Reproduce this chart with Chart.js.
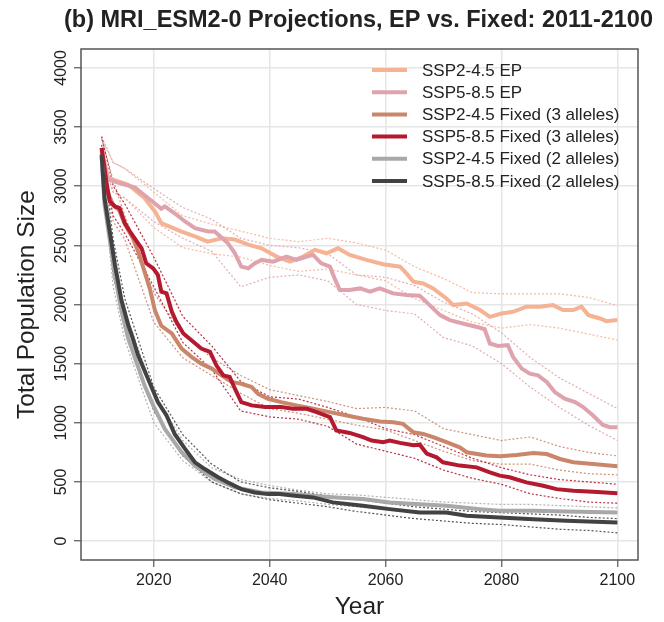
<!DOCTYPE html>
<html>
<head>
<meta charset="utf-8">
<script src="https://cdn.jsdelivr.net/npm/chart.js@4.4.0/dist/chart.umd.min.js"></script>
<style>
  html, body { margin: 0; padding: 0; background: #fff; }
</style>
</head>
<body>
<canvas id="popChart" width="664" height="622"></canvas>
<script>
// series labels and colours (legend order)
const seriesLabels = ['SSP2-4.5 EP', 'SSP5-8.5 EP', 'SSP2-4.5 Fixed (3 alleles)',
                      'SSP5-8.5 Fixed (3 alleles)', 'SSP2-4.5 Fixed (2 alleles)', 'SSP5-8.5 Fixed (2 alleles)'];
const seriesColors = ['#F5B393', '#DFA3AE', '#C9866A', '#B5192F', '#A8A8A8', '#424242'];

const xTicks = [2020, 2040, 2060, 2080, 2100];
const yTicks = [0, 500, 1000, 1500, 2000, 2500, 3000, 3500, 4000];

// mean trajectories
const ep245Years = [2011, 2012.1, 2015.6, 2018.4, 2020.2, 2021.3, 2024.8, 2027.1, 2029.3, 2031.7, 2034.0, 2036.3, 2038.6,
  2041.2, 2043.5, 2045.8, 2047.8, 2049.8, 2051.8, 2053.8, 2056.7, 2059.6, 2062.5, 2063.6, 2064.8, 2066.5, 2068.2,
  2070.5, 2071.7, 2074.0, 2076.3, 2078.0, 2080.0, 2082.0, 2084.3, 2086.6, 2088.9, 2090.6, 2092.4, 2093.8, 2095.0,
  2097.0, 2098.1, 2100];
const ep245Pop = [3300, 3070, 3013, 2900, 2787, 2688, 2617, 2575, 2532, 2560, 2549, 2506, 2475,
  2405, 2362, 2405, 2462, 2433, 2475, 2419, 2377, 2340, 2320, 2263, 2193, 2178, 2136,
  2051, 1995, 2009, 1953, 1896, 1924, 1938, 1981, 1981, 1995, 1953, 1953, 1981, 1910,
  1882, 1859, 1868];

const ep585Years = [2011, 2012.1, 2015.0, 2016.7, 2019.0, 2021.3, 2021.9, 2023.9, 2025.4, 2027.1, 2029.4, 2030.5, 2031.7,
  2032.8, 2034.0, 2035.1, 2036.3, 2037.4, 2038.6, 2040.6, 2042.9, 2044.6, 2046.4, 2047.5, 2048.9, 2050.4, 2051.2,
  2052.1, 2053.8, 2055.6, 2057.3, 2059.0, 2061.3, 2063.6, 2065.9, 2067.6, 2069.4, 2071.1, 2074.0, 2076.3, 2077.1,
  2078.0, 2079.4, 2081.1, 2082.0, 2083.5, 2084.9, 2086.3, 2087.8, 2089.2, 2090.9, 2092.7, 2094.1, 2095.8, 2097.5,
  2098.7, 2100];
const ep585Pop = [3300, 3056, 3013, 2990, 2900, 2810, 2829, 2759, 2702, 2645, 2617, 2617, 2566,
  2518, 2433, 2320, 2306, 2348, 2377, 2362, 2405, 2377, 2405, 2419, 2348, 2320, 2221,
  2122, 2122, 2136, 2108, 2136, 2094, 2080, 2074, 1995, 1910, 1868, 1831, 1803, 1791,
  1670, 1650, 1656, 1557, 1458, 1415, 1401, 1345, 1260, 1203, 1175, 1133, 1062, 982,
  963, 963];

const fix3245Years = [2011, 2012, 2013, 2014, 2015, 2016.4, 2017.3, 2018.4, 2019.3, 2020.2, 2021.3, 2023.1, 2024.8,
  2026.5, 2028.2, 2030.0, 2031.7, 2033.4, 2035.1, 2036.9, 2038.0, 2039.7, 2042.0, 2044.6, 2047.5, 2050.4, 2053.3,
  2056.1, 2059.0, 2061.3, 2063.0, 2064.8, 2066.5, 2068.2, 2070.5, 2072.8, 2074.0, 2077.4, 2079.7, 2082.6, 2085.5,
  2087.8, 2090.1, 2092.4, 2095.8, 2100];
const fix3245Pop = [3320, 2950, 2840, 2800, 2680, 2560, 2448, 2278, 2136, 1950, 1820, 1755, 1627,
  1557, 1500, 1458, 1401, 1345, 1330, 1302, 1245, 1203, 1175, 1147, 1118, 1090, 1062,
  1034, 1011, 1005, 991, 920, 906, 878, 836, 793, 751, 723, 717, 728, 745,
  736, 694, 666, 652, 632];

const fix3585Years = [2011, 2011.8, 2012.4, 2013.3, 2014.1, 2015.0, 2015.9, 2016.7, 2017.9, 2018.7, 2019.9, 2020.7, 2021.3,
  2022.2, 2023.1, 2023.9, 2025.1, 2026.5, 2028.2, 2029.7, 2030.8, 2032.0, 2033.1, 2034.0, 2035.1, 2036.9, 2039.2,
  2042.0, 2044.0, 2046.4, 2048.1, 2050.4, 2051.5, 2053.8, 2056.1, 2057.6, 2059.6, 2060.7, 2062.5, 2064.8, 2065.9,
  2067.1, 2068.8, 2069.9, 2072.8, 2075.7, 2078.0, 2079.7, 2081.4, 2084.3, 2087.2, 2089.5, 2092.4, 2095.8, 2100];
const fix3585Pop = [3324, 3041, 2872, 2829, 2815, 2688, 2617, 2560, 2475, 2348, 2306, 2250, 2108,
  2094, 1940, 1854, 1755, 1698, 1627, 1599, 1486, 1401, 1387, 1288, 1175, 1147, 1133,
  1133, 1118, 1118, 1090, 1048, 935, 914, 878, 850, 836, 850, 830, 810, 815,
  740, 708, 666, 638, 623, 581, 553, 539, 496, 468, 439, 426, 417, 405];

const fix2245Years = [2011, 2011.5, 2012.4, 2013.3, 2014.4, 2015.6, 2018.4, 2019.9, 2021.9, 2024.8, 2027.1, 2030.5, 2034.0,
  2038.6, 2044.3, 2047.5, 2051.5, 2056.1, 2060.7, 2065.9, 2070.5, 2076.3, 2079.7, 2085.5, 2091.2, 2100];
const fix2245Pop = [3250, 2850, 2550, 2250, 1950, 1712, 1317, 1147, 948, 751, 638, 524, 454,
  411, 397, 383, 369, 355, 327, 312, 299, 270, 256, 256, 250, 242];

const fix2585Years = [2011, 2011.5, 2012.4, 2013.3, 2014.4, 2015.6, 2016.2, 2017.3, 2019.0, 2020.7, 2022.2, 2023.6, 2025.4,
  2027.1, 2028.8, 2031.1, 2032.8, 2035.1, 2037.4, 2039.7, 2041.7, 2044.3, 2047.5, 2050.9, 2056.1, 2060.7, 2065.9,
  2070.5, 2074.0, 2079.7, 2085.5, 2091.2, 2100];
const fix2585Pop = [3268, 2900, 2617, 2335, 2040, 1826, 1741, 1571, 1373, 1175, 1062, 906, 779,
  666, 609, 539, 496, 439, 411, 397, 397, 383, 369, 327, 299, 270, 242,
  242, 214, 199, 185, 171, 157];

// replicate spread: upper and lower dotted runs
const bandYears = [2011, 2013, 2015, 2020, 2025, 2030, 2035, 2040, 2045, 2050, 2055, 2060, 2065, 2070, 2075, 2080, 2085, 2090, 2095, 2100];
const ep245Hi = [3400, 3200, 3150, 2950, 2750, 2680, 2620, 2560, 2530, 2560, 2520, 2460, 2320, 2220, 2100, 2090, 2090, 2090, 2060, 1990];
const ep245Lo = [3250, 2950, 2900, 2650, 2480, 2430, 2400, 2330, 2280, 2300, 2250, 2200, 2050, 1950, 1850, 1800, 1830, 1800, 1750, 1700];
const ep585Hi = [3420, 3200, 3150, 2980, 2820, 2720, 2560, 2500, 2480, 2430, 2250, 2230, 2160, 2020, 1920, 1760, 1550, 1380, 1250, 1120];
const ep585Lo = [3250, 2950, 2900, 2700, 2560, 2450, 2150, 2230, 2250, 2200, 2000, 1950, 1920, 1720, 1650, 1500, 1300, 1130, 980, 850];
const fix3245Hi = [3400, 3050, 2750, 2100, 1750, 1550, 1400, 1280, 1230, 1180, 1120, 1130, 1100, 950, 900, 850, 880, 800, 750, 720];
const fix3245Lo = [3250, 2700, 2550, 1850, 1550, 1400, 1250, 1120, 1080, 1030, 980, 940, 850, 760, 680, 650, 650, 600, 570, 560];
const fix3585Hi = [3420, 3000, 2850, 2400, 1900, 1650, 1350, 1220, 1200, 1130, 1050, 950, 900, 800, 700, 620, 560, 520, 500, 480];
const fix3585Lo = [3250, 2750, 2600, 2150, 1680, 1450, 1100, 1050, 1030, 970, 820, 760, 700, 600, 530, 480, 400, 360, 330, 320];
const fix2245Hi = [3300, 2450, 1950, 1250, 850, 620, 520, 470, 430, 400, 390, 370, 350, 330, 320, 310, 310, 300, 290, 280];
const fix2245Lo = [3150, 2150, 1700, 1000, 680, 500, 400, 360, 340, 310, 290, 270, 250, 230, 210, 200, 190, 180, 170, 160];
const fix2585Hi = [3350, 2550, 2050, 1300, 900, 650, 500, 450, 420, 380, 350, 320, 290, 270, 250, 240, 230, 220, 200, 190];
const fix2585Lo = [3200, 2250, 1800, 1100, 720, 500, 400, 350, 320, 290, 250, 220, 190, 170, 150, 140, 120, 100, 90, 70];

const mainYears = [ep245Years, ep585Years, fix3245Years, fix3585Years, fix2245Years, fix2585Years];
const mainPops = [ep245Pop, ep585Pop, fix3245Pop, fix3585Pop, fix2245Pop, fix2585Pop];
const bandHi = [ep245Hi, ep585Hi, fix3245Hi, fix3585Hi, fix2245Hi, fix2585Hi];
const bandLo = [ep245Lo, ep585Lo, fix3245Lo, fix3585Lo, fix2245Lo, fix2585Lo];

const FONT = '"Liberation Sans", Arial, sans-serif';

function toPoints(xs, ys) {
  return xs.map((x, i) => ({ x: x, y: ys[i] }));
}

function fade(hex, a) {
  const n = parseInt(hex.slice(1), 16);
  return 'rgba(' + (n >> 16) + ',' + ((n >> 8) & 255) + ',' + (n & 255) + ',' + a + ')';
}

const datasets = [];
seriesLabels.forEach((label, i) => {
  [bandHi[i], bandLo[i]].forEach(band => {
    datasets.push({
      label: label + ' run',
      data: toPoints(bandYears, band),
      borderColor: fade(seriesColors[i], 0.9),
      borderWidth: 1.2,
      borderDash: [2, 2],
      pointRadius: 0,
      tension: 0,
      order: 20 - i
    });
  });
  datasets.push({
    label: label,
    data: toPoints(mainYears[i], mainPops[i]),
    borderColor: seriesColors[i],
    borderWidth: 4,
    pointRadius: 0,
    tension: 0,
    order: 6 - i
  });
});

// R-style frame, tick labels, titles and legend
const rDecor = {
  id: 'rDecor',
  afterDatasetsDraw(chart) {
    const { ctx, chartArea: a, scales } = chart;
    ctx.save();
    ctx.strokeStyle = '#555';
    ctx.lineWidth = 1.5;
    ctx.strokeRect(a.left, a.top, a.right - a.left, a.bottom - a.top);

    ctx.fillStyle = '#222';
    ctx.font = '16px ' + FONT;
    ctx.textAlign = 'center';
    ctx.textBaseline = 'alphabetic';
    yTicks.forEach(v => {
      const py = scales.y.getPixelForValue(v);
      ctx.save();
      ctx.translate(66, py);
      ctx.rotate(-Math.PI / 2);
      ctx.fillText(String(v), 0, 0);
      ctx.restore();
    });
    ctx.textBaseline = 'middle';
    xTicks.forEach(v => {
      ctx.fillText(String(v), scales.x.getPixelForValue(v), 581);
    });

    ctx.font = 'bold 23.5px ' + FONT;
    ctx.textBaseline = 'alphabetic';
    ctx.fillText('(b) MRI_ESM2-0 Projections, EP vs. Fixed: 2011-2100', 358.5, 27);

    ctx.font = '24.5px ' + FONT;
    ctx.textBaseline = 'middle';
    ctx.fillText('Year', (a.left + a.right) / 2, 607);
    ctx.save();
    ctx.translate(27, (a.top + a.bottom) / 2);
    ctx.rotate(-Math.PI / 2);
    ctx.fillText('Total Population Size', 0, 0);
    ctx.restore();

    ctx.font = '17px ' + FONT;
    ctx.textAlign = 'left';
    seriesLabels.forEach((label, i) => {
      const ly = 70 + i * 22.2;
      ctx.strokeStyle = seriesColors[i];
      ctx.lineWidth = 4;
      ctx.beginPath();
      ctx.moveTo(372, ly);
      ctx.lineTo(407, ly);
      ctx.stroke();
      ctx.fillStyle = '#222';
      ctx.fillText(label, 422, ly + 1);
    });
    ctx.restore();
  }
};

new Chart(document.getElementById('popChart'), {
  type: 'line',
  data: { datasets: datasets },
  options: {
    responsive: false,
    animation: false,
    layout: { padding: { top: 49, right: 26, left: 0, bottom: 0 } },
    plugins: { legend: { display: false }, title: { display: false }, tooltip: { enabled: false } },
    scales: {
      x: {
        type: 'linear',
        min: 2007.44,
        max: 2103.56,
        afterBuildTicks: s => { s.ticks = xTicks.map(v => ({ value: v })); },
        afterFit: s => { s.height = 62; },
        ticks: { display: false },
        border: { display: false },
        grid: { color: '#E6E6E6', lineWidth: 1.5, tickLength: 7, tickColor: '#555', tickWidth: 1.2 }
      },
      y: {
        min: -160,
        max: 4160,
        afterBuildTicks: s => { s.ticks = yTicks.map(v => ({ value: v })); },
        afterFit: s => { s.width = 81; },
        ticks: { display: false },
        border: { display: false },
        grid: { color: '#E6E6E6', lineWidth: 1.5, tickLength: 7, tickColor: '#555', tickWidth: 1.2 }
      }
    }
  },
  plugins: [rDecor]
});
</script>
</body>
</html>
